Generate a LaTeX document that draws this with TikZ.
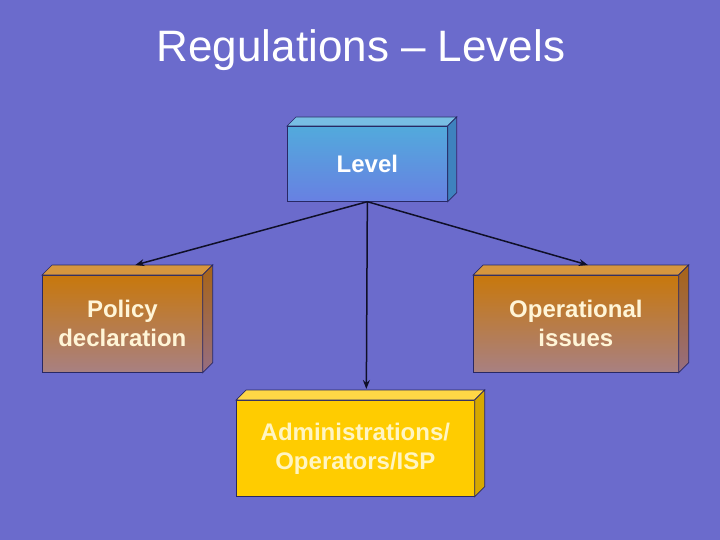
\documentclass[tikz,border=0pt]{standalone}
\usepackage{fontspec}
\setmainfont{Liberation Sans}
\usetikzlibrary{arrows.meta,calc}
\definecolor{bg}{RGB}{107,107,204}
\definecolor{edge}{RGB}{40,40,100}
\definecolor{lvtop}{RGB}{120,190,228}
\definecolor{lvfa}{RGB}{82,170,220}
\definecolor{lvfb}{RGB}{104,128,226}
\definecolor{lvside}{RGB}{62,130,190}
\definecolor{ortop}{RGB}{214,150,62}
\definecolor{orfa}{RGB}{200,120,12}
\definecolor{orfb}{RGB}{168,128,130}
\definecolor{orsa}{RGB}{168,100,22}
\definecolor{orsb}{RGB}{150,110,130}
\definecolor{yetop}{RGB}{255,215,70}
\definecolor{yefr}{RGB}{255,204,0}
\definecolor{yeside}{RGB}{214,168,0}
\definecolor{cream}{RGB}{255,245,215}
\definecolor{lyel}{RGB}{255,245,195}
\definecolor{arr}{RGB}{15,15,40}
\newcommand\myfaces[5]{%
  \fill[#3,draw=edge,line width=0.7pt] (#1.north west) -- ++(#2,-#2) -- ($(#1.north east)+(#2,-#2)$) -- (#1.north east) -- cycle;
  \shade[top color=#4,bottom color=#5,draw=edge,line width=0.7pt] (#1.north east) -- ++(#2,-#2) -- ($(#1.south east)+(#2,-#2)$) -- (#1.south east) -- cycle;
}
\tikzset{
  frontbox/.style={draw=edge,line width=0.7pt,anchor=north west,inner sep=0pt,align=center,
    font=\bfseries\fontsize{24}{29}\selectfont},
  link/.style={draw=arr,line width=1.5pt,-{Stealth[length=9pt,width=7pt]}}
}
\begin{document}
\begin{tikzpicture}[x=1pt,y=-1pt]
\fill[bg] (0,0) rectangle (720,540);
\useasboundingbox (0,0) rectangle (720,540);
\node[anchor=base,font=\fontsize{44}{53}\selectfont,text=white] (title) at (361,62) {Regulations – Levels};

\node[frontbox,minimum width=160pt,minimum height=75pt,top color=lvfa,bottom color=lvfb,text=white] (lvl) at (287,126) {Level};
\myfaces{lvl}{9}{lvtop}{lvside}{lvside}

\node[frontbox,minimum width=160pt,minimum height=97pt,top color=orfa,bottom color=orfb,text=cream] (pol) at (42,275) {Policy\\declaration};
\myfaces{pol}{10}{ortop}{orsa}{orsb}

\node[frontbox,minimum width=205pt,minimum height=97pt,top color=orfa,bottom color=orfb,text=cream] (ops) at (473,275) {Operational\\issues};
\myfaces{ops}{10}{ortop}{orsa}{orsb}

\node[frontbox,minimum width=238pt,minimum height=96pt,fill=yefr,text=lyel] (adm) at (236,400) {Administrations/\\Operators/ISP};
\myfaces{adm}{10}{yetop}{yeside}{yeside}

\coordinate (polT) at ($(pol.north)+(13,-10)$);
\coordinate (opsT) at ($(ops.north)+(12,-10)$);
\coordinate (admT) at ($(adm.north)+(11,-11)$);
\draw[link] (lvl.south) -- (polT);
\draw[link] (lvl.south) -- (opsT);
\draw[link] (lvl.south) -- (admT);
\end{tikzpicture}
\end{document}
